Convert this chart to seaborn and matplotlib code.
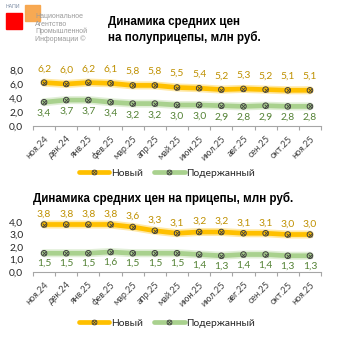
import matplotlib
matplotlib.use("Agg")
import matplotlib.pyplot as plt
import seaborn as sns
import pandas as pd
from matplotlib.patches import Rectangle

months = ["ноя.24", "дек.24", "янв.25", "фев.25", "мар.25", "апр.25", "май.25",
          "июн.25", "июл.25", "авг.25", "сен.25", "окт.25", "ноя.25"]
semi_new = [6.2, 6.0, 6.2, 6.1, 5.8, 5.8, 5.5, 5.4, 5.2, 5.3, 5.2, 5.1, 5.1]
semi_used = [3.4, 3.7, 3.7, 3.4, 3.2, 3.2, 3.0, 3.0, 2.9, 2.8, 2.9, 2.8, 2.8]
trail_new = [3.8, 3.8, 3.8, 3.8, 3.6, 3.3, 3.1, 3.2, 3.2, 3.1, 3.1, 3.0, 3.0]
trail_used = [1.5, 1.5, 1.5, 1.6, 1.5, 1.5, 1.5, 1.4, 1.3, 1.4, 1.4, 1.3, 1.3]
series_names = ["Новый", "Подержанный"]
title1 = "Динамика средних цен\nна полуприцепы, млн руб."
title2 = "Динамика средних цен на прицепы, млн руб."

sns.set_theme(style="white")
plt.rcParams["font.family"] = ["Lato", "DejaVu Sans"]

C_NEW = "#FFC000"
C_USED = "#A9D18E"
L_NEW = "#BF9000"
L_USED = "#548235"
MK_EDGE = "#404040"

W, H = 338, 338
fig = plt.figure(figsize=(3.38, 3.38), dpi=100)


def axes_px(left, right, top, bottom):
    return fig.add_axes([left / W, 1 - bottom / H, (right - left) / W, (bottom - top) / H])


def draw_panel(ax, new, used, ymax, yticks, label_off_new, label_off_used):
    df = pd.DataFrame({"x": list(range(len(months))) * 2,
                       "y": new + used,
                       "s": [series_names[0]] * len(new) + [series_names[1]] * len(used)})
    pal = {series_names[0]: C_NEW, series_names[1]: C_USED}
    sns.lineplot(data=df, x="x", y="y", hue="s", palette=pal, lw=5.8, alpha=0.35,
                 ax=ax, legend=False, zorder=2)
    sns.lineplot(data=df, x="x", y="y", hue="s", palette=pal, lw=3.4,
                 ax=ax, legend=False, zorder=3)
    sns.scatterplot(data=df, x="x", y="y", hue="s", palette=pal, marker="o", s=16,
                    edgecolor=MK_EDGE, linewidth=0.7, ax=ax, legend=False, zorder=4)
    sns.scatterplot(data=df, x="x", y="y", color=MK_EDGE, marker="x", s=7,
                    linewidth=0.6, ax=ax, legend=False, zorder=5)
    for i, v in enumerate(new):
        ax.annotate(f"{v:.1f}".replace(".", ","), (i, v), xytext=(0, label_off_new),
                    textcoords="offset points", ha="center", va="center",
                    fontsize=7.4, color=L_NEW)
    for i, v in enumerate(used):
        ax.annotate(f"{v:.1f}".replace(".", ","), (i, v), xytext=(0, label_off_used),
                    textcoords="offset points", ha="center", va="center",
                    fontsize=7.4, color=L_USED)
    ax.set_xlim(-0.5, len(months) - 0.5)
    ax.set_ylim(0, ymax)
    ax.set_yticks(yticks)
    ax.set_yticklabels([f"{t:.1f}".replace(".", ",") for t in yticks], fontsize=7.4,
                       color="#262626")
    ax.set_xticks(range(len(months)))
    ax.set_xticklabels(months, rotation=45, ha="right", va="top",
                       rotation_mode="anchor", fontsize=6.6, color="#404040")
    ax.set_xticks([i - 0.5 for i in range(len(months) + 1)], minor=True)
    ax.tick_params(axis="x", which="major", length=0, pad=6)
    ax.tick_params(axis="x", which="minor", length=3, width=0.8, color="#A6A6A6",
                   direction="out", bottom=True)
    ax.tick_params(axis="y", length=0, pad=7)
    for sp in ["top", "right", "left"]:
        ax.spines[sp].set_visible(False)
    ax.spines["bottom"].set_color("#A6A6A6")
    ax.spines["bottom"].set_linewidth(0.8)
    ax.set_xlabel("")
    ax.set_ylabel("")
    ax.patch.set_alpha(0)
    for c in ax.collections + ax.lines:
        c.set_clip_on(False)


def add_legend(y_px):
    from matplotlib.lines import Line2D
    handles = []
    for col in [C_NEW, C_USED]:
        handles.append((Line2D([], [], color=col, lw=3.4),
                        Line2D([], [], color=col, marker="o", ms=3.5, mec=MK_EDGE,
                               mew=0.6, ls="none"),
                        Line2D([], [], color=MK_EDGE, marker="x", ms=2.2, mew=0.5,
                               ls="none")))
    leg = fig.legend(handles, series_names, loc="center", bbox_to_anchor=(167 / W, 1 - y_px / H),
                     ncol=2, frameon=False, fontsize=7.4, handlelength=3.0,
                     handletextpad=0.2, columnspacing=1.0, borderpad=0)
    for t in leg.get_texts():
        t.set_color("#262626")


ax1 = axes_px(33, 321, 70, 126)
draw_panel(ax1, semi_new, semi_used, 8, [0, 2, 4, 6, 8], 10, -8)
add_legend(173)

ax2 = axes_px(33, 321, 222, 272)
draw_panel(ax2, trail_new, trail_used, 4, [0, 1, 2, 3, 4], 7.5, -7.5)
add_legend(323)

fig.text(108 / W, 1 - 30 / H, title1, ha="left", va="center", fontsize=8.4,
         fontweight="bold", family=["Liberation Sans", "DejaVu Sans"], color="#000000",
         linespacing=1.2)
fig.text(33 / W, 1 - 198 / H, title2, ha="left", va="center", fontsize=8.4,
         fontweight="bold", family=["Liberation Sans", "DejaVu Sans"], color="#000000")

# logo
fig.patches.append(Rectangle((6 / W, 1 - 29 / H), 16 / W, 16 / H, transform=fig.transFigure,
                             color="#FF0000", zorder=1))
fig.patches.append(Rectangle((25 / W, 1 - 21 / H), 15 / W, 16 / H, transform=fig.transFigure,
                             color="#F7A54A", zorder=1, alpha=0.95))
fig.text(6 / W, 1 - 7 / H, "НАПИ", fontsize=3.8, color="#7F8FA6", ha="left", va="center",
         family=["Liberation Sans Narrow", "Liberation Sans", "DejaVu Sans"])
logo_lines = ["Национальное", "Агентство", "Промышленной", "Информации ©"]
for k, line in enumerate(logo_lines):
    fig.text(35 / W, 1 - (17 + 7.3 * k) / H, line, fontsize=5.0, color="#9A9A9A",
             ha="left", va="center",
             family=["Liberation Sans Narrow", "Liberation Sans", "DejaVu Sans"])

fig.savefig("out.png", dpi=100)
